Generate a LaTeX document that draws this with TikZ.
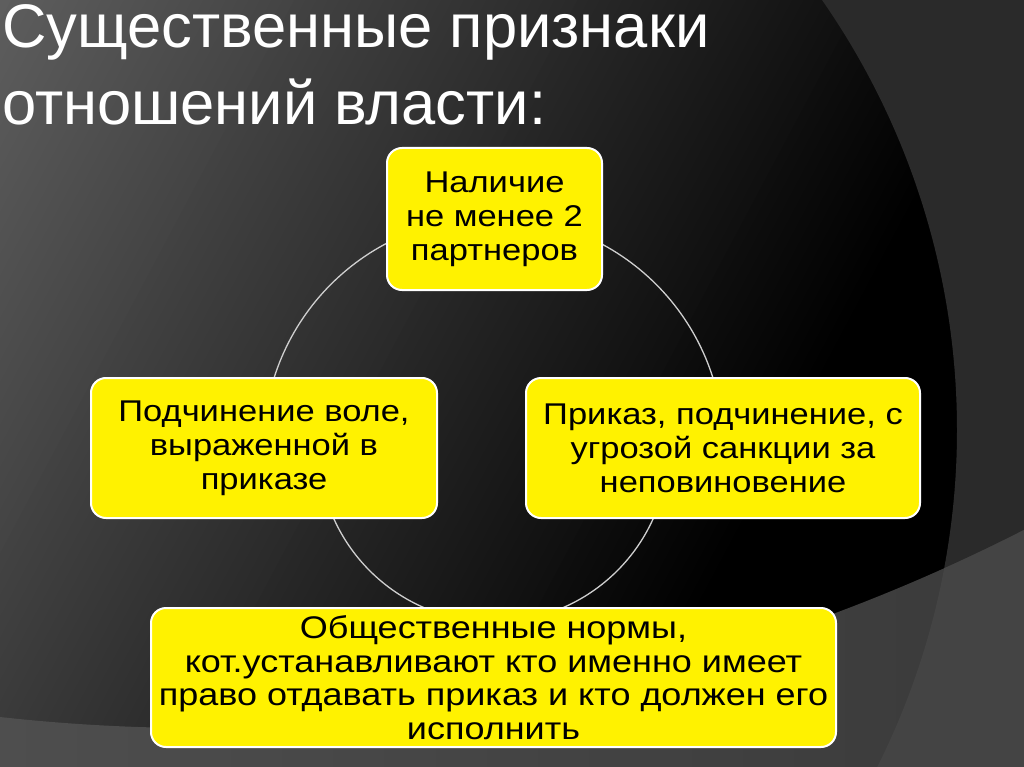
\documentclass[tikz,border=0pt]{standalone}
\usepackage{fontspec}
\setmainfont{Liberation Sans}
\newfontfamily\boxfont[FakeStretch=1.15]{Liberation Sans}
\usepackage{tikz}
\usetikzlibrary{positioning}
\definecolor{bgtr}{HTML}{2A2A2A}
\definecolor{bandl}{HTML}{4E4E4E}
\definecolor{bandr}{HTML}{3A3A3A}
\definecolor{bandtr}{HTML}{444444}
\definecolor{ringgray}{HTML}{CFCFCF}
\newcommand{\KY}[0]{yellow}
\newcommand{\KR}[0]{ringgray}
\newcommand{\KW}[0]{white}

\begin{document}
\begin{tikzpicture}[x=1pt,y=-1pt,
  box/.style={draw=\KW, line width=2pt, fill=\KY, rounded corners=15pt,
    inner sep=0pt, align=center, font=\boxfont\fontsize{30}{34}\selectfont},
  ring/.style={draw=\KR, line width=1.3pt}]

  \newcommand\RU{230}
  \newcommand\RL{175}

  \useasboundingbox (0,0) rectangle (1024,767);

  %% background
  \fill[black] (0,0) rectangle (1024,767);
  \begin{scope}
    \clip (0,0) rectangle (1024,767);
    \foreach \i in {0,...,91} {
      \pgfmathtruncatemacro\v{max(0,94-1.04*\i)}
      \definecolor{bgc}{RGB}{\v,\v,\v}
      \fill[bgc, rotate=-28] (10*\i,-900) rectangle (10*\i+11,700);
    }
  \end{scope}

  \fill[bgtr] (1024,0) -- (822,0)
  arc[start angle=-34.87, end angle=26.63, radius=752]
  -- (1024,767) -- cycle; % big swoosh, right

  \shade[left color=bandl, right color=bandr] (0,767) -- (0,717)
  arc[start angle=96.33, end angle=62.97, radius=1813]
  -- (1024,767) -- cycle; % band, bottom

  \begin{scope}
    \clip (0,767) -- (0,717)
    arc[start angle=96.33, end angle=62.97, radius=1813]
    -- (1024,767) -- cycle;
    \fill[bandtr] (1024,0) -- (822,0)
    arc[start angle=-34.87, end angle=26.63, radius=752]
    -- (1024,767) -- cycle;
  \end{scope}

  %% ring
  \coordinate (c) at (493.5,447);
  \draw[ring] ([shift={(c)}]180:\RU) arc[start angle=180, end angle=360, radius=\RU]; % upper half
  \draw[ring] ([shift={(c)}]0:\RL) arc[start angle=0, end angle=180, radius=\RL]; % lower half

  %% title
  \node[anchor=north west, inner sep=0pt, text=\KW, align=left,
  font=\fontsize{61.5}{77}\selectfont] (title) at (2,4)
  {Существенные признаки\\отношений власти:};

  %% boxes
  \node[box, minimum width=215pt, minimum height=142pt] (nal) at (494.5,219)
  {Наличие\\не менее 2\\партнеров};
  \node[box, minimum width=346pt, minimum height=140pt] (podch) at (264,448)
  {Подчинение воле,\\выраженной в\\приказе};
  \node[box, minimum width=394pt, minimum height=140pt] (prik) at (723,448)
  {Приказ, подчинение, с\\угрозой санкции за\\неповиновение};
  \node[box, minimum width=685pt, minimum height=139pt,
  font=\boxfont\fontsize{31.3}{33.5}\selectfont] (norm) at (493.5,677.5)
  {Общественные нормы,\\кот.устанавливают кто именно имеет\\право отдавать приказ и кто должен его\\исполнить};

\end{tikzpicture}
\end{document}
